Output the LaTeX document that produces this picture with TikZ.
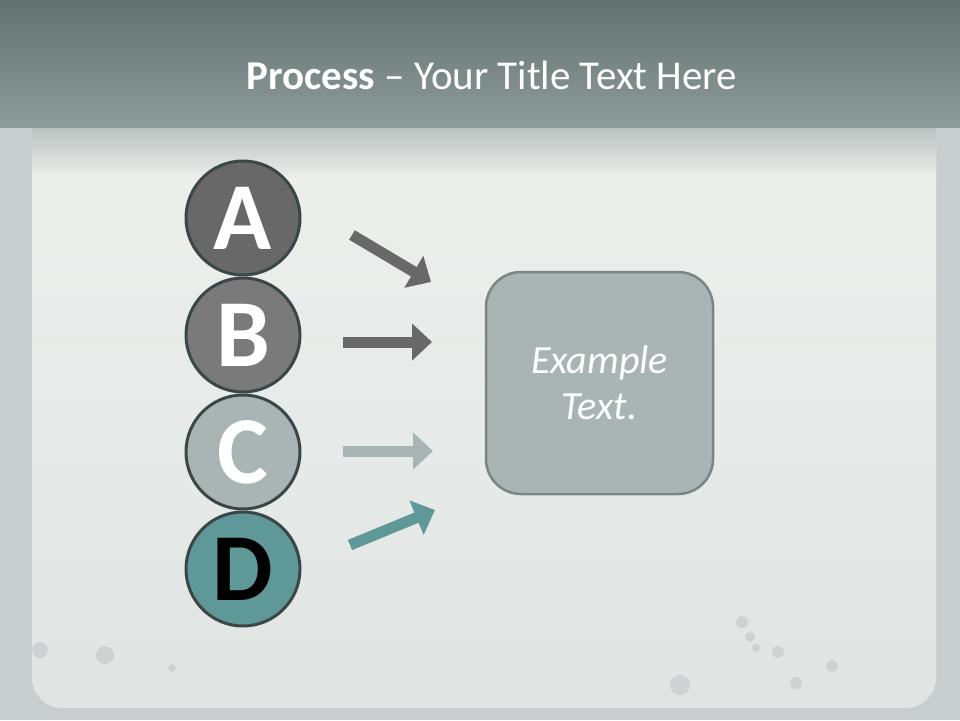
\documentclass[tikz,border=0pt]{standalone}
\usepackage{fontspec}
\setmainfont{Carlito}
\usetikzlibrary{positioning}
\usetikzlibrary{arrows.meta}

\definecolor{banddark}{HTML}{637170}
\definecolor{bandlight}{HTML}{8D9B9B}
\definecolor{frame}{HTML}{C8CDCD}
\definecolor{panel}{HTML}{EEF0ED}
\definecolor{panellow}{HTML}{E0E5E4}
\definecolor{spot}{HTML}{CDD3D3}
\definecolor{rim}{HTML}{3B4646}
\definecolor{greyA}{HTML}{686868}
\definecolor{greyB}{HTML}{7A7A7A}
\definecolor{greyC}{HTML}{A9B5B5}
\definecolor{tealD}{HTML}{5F9898}
\definecolor{boxrim}{HTML}{7C8585}

\begin{document}
\begin{tikzpicture}[x=1pt, y=-1pt,
    letter/.style={circle, draw=rim, line width=3pt, minimum size=114pt,
      inner sep=0pt, font=\fontsize{96}{96}\selectfont\bfseries},
    blockarrow/.style={line width=11pt,
      -{Triangle[length=20pt, width=36pt]}}]
  \useasboundingbox (0,0) rectangle (960,720);

  % background
  \fill[frame] (0,0) rectangle (960,720);
  \shade[rounded corners=30pt, top color=panel, bottom color=panellow]
    (32,100) rectangle (936,708);
  \shade[top color=bandlight!55!panel, bottom color=panel] (32,127) rectangle (936,180);
  \shade[top color=banddark, bottom color=bandlight] (0,0) rectangle (960,127);
  \foreach \x/\y/\r in {742/622/6, 750/637/5, 756/648/4, 778/652/6, 832/666/6,
      680/685/10, 796/683/6, 40/650/8, 105/655/9, 172/668/4} {
    \fill[spot] (\x,\y) circle (\r pt);
  }

  \node (title) at (492,75) [text=white, font=\fontsize{41}{48}\selectfont]
    {\textbf{Process} -- Your Title Text Here};

  % the four steps
  \node (a) at (243,218) [letter, fill=greyA, text=white] {A};
  \node (b) [letter, fill=greyB, text=white, below=0pt of a] {B};
  \node (c) [letter, fill=greyC, text=white, below=0pt of b] {C};
  \node (d) [letter, fill=tealD, text=black, below=0pt of c] {D};

  \node (box) at (599.5,383) [draw=boxrim, fill=greyC, line width=2.5pt,
    rounded corners=35pt, minimum width=227pt, minimum height=222pt,
    align=center, text=white, font=\fontsize{40}{46}\selectfont\itshape]
    {Example\\Text.};

  \coordinate (a1) at (352,235);
  \coordinate (a2) at (431,282);
  \coordinate (b1) at (343,342);
  \coordinate (b2) at (432,342);
  \coordinate (c1) at (343,451);
  \coordinate (c2) at (433,451);
  \coordinate (d1) at (350,545);
  \coordinate (d2) at (435,510);

  \draw[blockarrow, greyA] (a1) -- (a2);
  \draw[blockarrow, greyA] (b1) -- (b2);
  \draw[blockarrow, greyC] (c1) -- (c2);
  \draw[blockarrow, tealD] (d1) -- (d2);
\end{tikzpicture}
\end{document}
